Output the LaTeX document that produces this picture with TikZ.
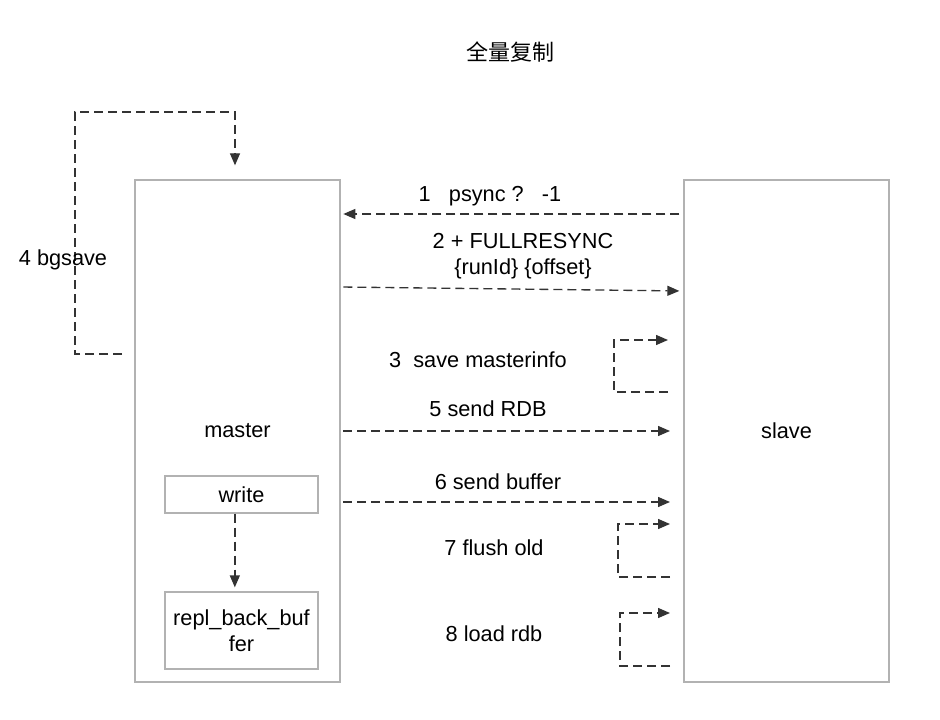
\documentclass[tikz,border=0pt]{standalone}
\usepackage{fontspec}
\setmainfont{Liberation Sans}
\newfontfamily\cjkfont{Noto Sans CJK SC}
\usetikzlibrary{positioning,arrows.meta}

\begin{document}
\begin{tikzpicture}[x=0.75pt, y=-0.75pt,
        box/.style={rectangle, draw=black!30, line width=1pt, font=\fontsize{16.3}{19.5}\selectfont, align=center},
        flow/.style={draw=black!80, line width=1pt, dash pattern=on 6.75pt off 3.75pt, -{Triangle[length=9pt, width=7.5pt]}},
        lbl/.style={font=\fontsize{16.3}{19.5}\selectfont, align=center, inner sep=1pt}
    ]
    \useasboundingbox (0,0) rectangle (940,720);

    \node[font=\cjkfont\fontsize{16.5}{19}\selectfont] (title) at (510,52) {全量复制};

    % the two servers
    \node[box, minimum width=153.75pt, minimum height=376.5pt] (master) at (237.5,431) {master};
    \node[box, minimum width=153.75pt, minimum height=376.5pt] (slave)  at (786.5,431) {slave};

    \node[box, minimum width=114.75pt, minimum height=27.75pt] (write) at (241.5,494.5) {write};
    \node[box, minimum width=114.75pt, minimum height=57.75pt] (repl)  at (241.5,630.5) {repl\_back\_buf\\fer};

    \draw[flow, shorten >=3pt] ([xshift=-5pt]write.south) -- ([xshift=-5pt]repl.north);

    % bgsave loop
    \coordinate (m4) at (122,354);
    \draw[flow, shorten >=10.5pt] (m4) -- (75,354) -- (75,112) -- (235,112) -- (master.north -| 235,0);
    \node[lbl] (l4) at (63,260) {4 bgsave};

    % messages
    \draw[flow, shorten <=3pt, shorten >=2pt] (slave.west |- 0,214) -- (master.east |- 0,214);
    \node[lbl] (l1) at (490,196) {1\ \ \ psync ?\ \ \ -1};

    \draw[flow, shorten <=2pt, shorten >=3pt] (master.east |- 0,287) -- (slave.west |- 0,291);
    \node[lbl] (l2) at (523,256) {2 + FULLRESYNC\\\{runId\} \{offset\}};

    \coordinate (s3) at (668,392);
    \draw[flow] (s3) -- (614,392) -- (614,340) -- (668,340);
    \node[lbl] (l3) at (478,360) {3\ \ save masterinfo};

    \draw[flow, shorten <=2pt, shorten >=10pt] (master.east |- 0,431) -- (slave.west |- 0,431);
    \node[lbl] (l5) at (488,409) {5 send RDB};

    \draw[flow, shorten <=2pt, shorten >=10pt] (master.east |- 0,502) -- (slave.west |- 0,502);
    \node[lbl] (l6) at (498,482) {6 send buffer};

    \coordinate (s7) at (670,577);
    \draw[flow] (s7) -- (618,577) -- (618,524) -- (670,524);
    \node[lbl] (l7) at (494,548) {7 flush old};

    \coordinate (s8) at (670,666);
    \draw[flow] (s8) -- (620,666) -- (620,613) -- (670,613);
    \node[lbl] (l8) at (494,634) {8 load rdb};
\end{tikzpicture}
\end{document}
